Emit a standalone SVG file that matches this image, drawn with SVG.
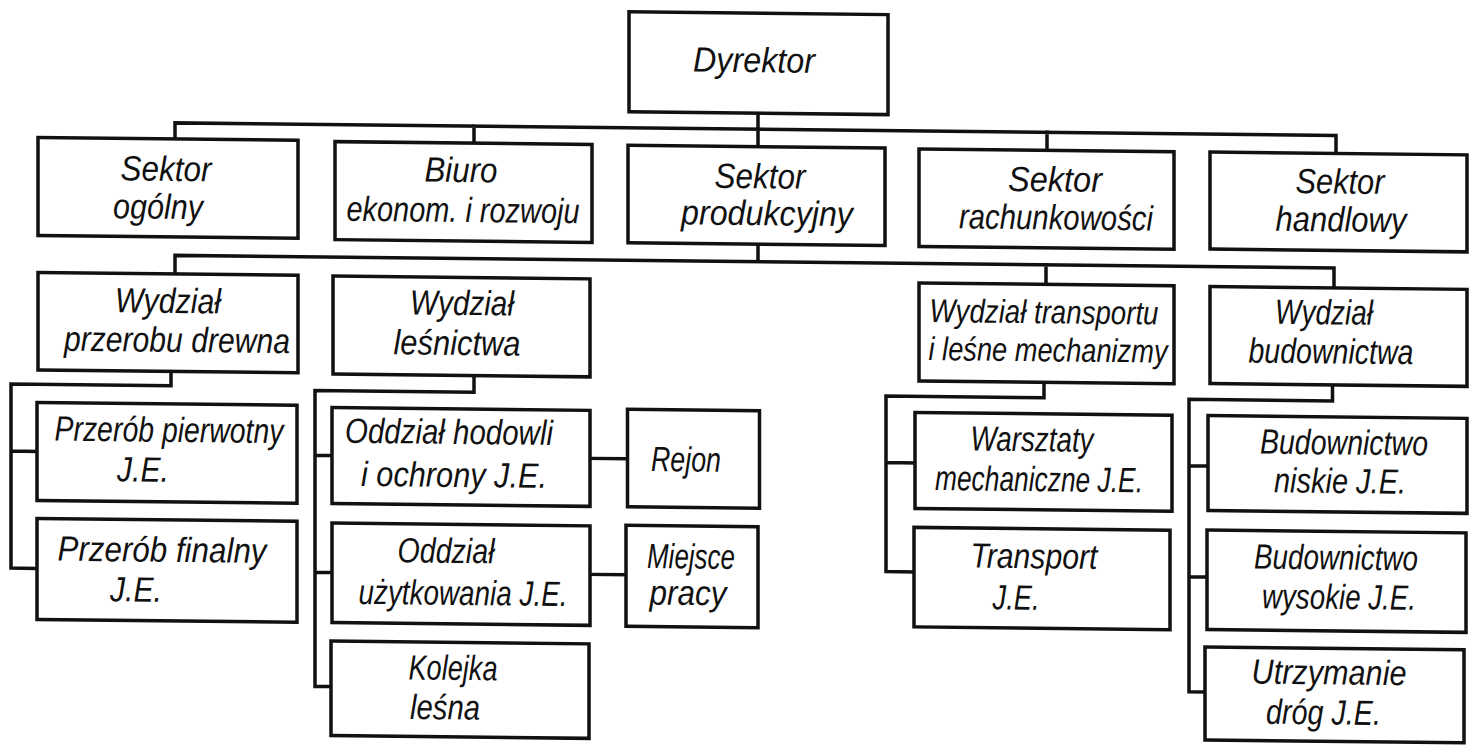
<svg xmlns="http://www.w3.org/2000/svg" width="1481" height="746" viewBox="0 0 1481 746">
<style>
.box{fill:#fff;stroke:#111;stroke-width:3.5}
.conn{fill:none;stroke:#111;stroke-width:3.5;stroke-linejoin:miter;stroke-linecap:square}
text{font-family:"Liberation Sans",Arial,sans-serif;font-style:italic;font-size:35px;fill:#111;text-anchor:middle}
.sm{font-size:33px}
</style>
<rect x="0" y="0" width="1481" height="746" fill="#fff"/>
<g transform="translate(0,-8) skewY(0.62)">
<g id="connectors">
<path class="conn" d="M758,113 V146 M175,146 V129 H1336 V146 M474,129 V146 M1047,129 V146"/>
<path class="conn" d="M758,244 V261.5 M175,280 V261.5 H1334 V280 M1046,261.5 V280"/>
<path class="conn" d="M171,377 V392 H11 V576 H36 M11,459 H36"/>
<path class="conn" d="M474,378.5 V395 H315 V691 H332 M315,460 H332 M315,577 H332"/>
<path class="conn" d="M590,460 H627.5 M590,576 H626"/>
<path class="conn" d="M1044,378.5 V394.5 H886 V570 H915 M886,461 H915"/>
<path class="conn" d="M1332.5,378.5 V394.5 H1189 V687 H1207 M1189,461 H1208 M1189,572 H1207"/>
</g>
<g id="dyrektor"><rect class="box" x="629" y="13" width="259" height="100"/><text x="754" y="72" textLength="122" lengthAdjust="spacingAndGlyphs">Dyrektor</text></g>
<g id="sektor-ogolny"><rect class="box" x="38" y="145" width="260" height="98"/><text x="166" y="187" textLength="91" lengthAdjust="spacingAndGlyphs">Sektor</text><text x="158" y="225" textLength="90" lengthAdjust="spacingAndGlyphs">ogólny</text></g>
<g id="biuro"><rect class="box" x="335" y="146" width="257" height="98"/><text x="461" y="185" textLength="73" lengthAdjust="spacingAndGlyphs">Biuro</text><text x="463" y="225" textLength="233" lengthAdjust="spacingAndGlyphs">ekonom. i rozwoju</text></g>
<g id="sektor-produkcyjny"><rect class="box" x="628" y="146.5" width="257" height="97.5"/><text x="760" y="188" textLength="91" lengthAdjust="spacingAndGlyphs">Sektor</text><text x="767" y="225" textLength="172" lengthAdjust="spacingAndGlyphs">produkcyjny</text></g>
<g id="sektor-rachunkowosci"><rect class="box" x="919" y="147" width="255" height="97.5"/><text x="1055" y="188" textLength="94" lengthAdjust="spacingAndGlyphs">Sektor</text><text x="1056" y="226" textLength="194" lengthAdjust="spacingAndGlyphs">rachunkowości</text></g>
<g id="sektor-handlowy"><rect class="box" x="1210" y="147" width="257" height="97"/><text x="1340" y="187" textLength="89" lengthAdjust="spacingAndGlyphs">Sektor</text><text x="1341" y="225" textLength="131" lengthAdjust="spacingAndGlyphs">handlowy</text></g>
<g id="wydzial-przerobu"><rect class="box" x="38" y="280" width="260" height="97.5"/><text x="168" y="319" textLength="106" lengthAdjust="spacingAndGlyphs">Wydział</text><text x="177" y="358" textLength="226" lengthAdjust="spacingAndGlyphs">przerobu drewna</text></g>
<g id="wydzial-lesnictwa"><rect class="box" x="333" y="280.5" width="257" height="98"/><text x="462" y="318" textLength="104" lengthAdjust="spacingAndGlyphs">Wydział</text><text x="457" y="358" textLength="127" lengthAdjust="spacingAndGlyphs">leśnictwa</text></g>
<g id="wydzial-transportu"><rect class="box" x="919" y="281" width="255" height="98"/><text class="sm" x="1044" y="320" textLength="229" lengthAdjust="spacingAndGlyphs">Wydział transportu</text><text class="sm" x="1048" y="358" textLength="239" lengthAdjust="spacingAndGlyphs">i leśne mechanizmy</text></g>
<g id="wydzial-budownictwa"><rect class="box" x="1210" y="281.5" width="257" height="97"/><text x="1324" y="318" textLength="98" lengthAdjust="spacingAndGlyphs">Wydział</text><text x="1331" y="357" textLength="165" lengthAdjust="spacingAndGlyphs">budownictwa</text></g>
<g id="przerob-pierwotny"><rect class="box" x="37" y="410" width="260" height="98"/><text x="169" y="448" textLength="229" lengthAdjust="spacingAndGlyphs">Przerób pierwotny</text><text x="143" y="488" textLength="52" lengthAdjust="spacingAndGlyphs">J.E.</text></g>
<g id="przerob-finalny"><rect class="box" x="37" y="526" width="260" height="101"/><text x="162" y="568" textLength="209" lengthAdjust="spacingAndGlyphs">Przerób finalny</text><text x="136" y="608" textLength="52" lengthAdjust="spacingAndGlyphs">J.E.</text></g>
<g id="oddzial-hodowli"><rect class="box" x="332" y="412" width="258" height="96"/><text x="449" y="447" textLength="208" lengthAdjust="spacingAndGlyphs">Oddział hodowli</text><text x="454" y="490" textLength="186" lengthAdjust="spacingAndGlyphs">i ochrony J.E.</text></g>
<g id="oddzial-uzytkowania"><rect class="box" x="332" y="527.5" width="258" height="99.5"/><text x="446" y="566" textLength="97" lengthAdjust="spacingAndGlyphs">Oddział</text><text x="463" y="608" textLength="209" lengthAdjust="spacingAndGlyphs">użytkowania J.E.</text></g>
<g id="kolejka-lesna"><rect class="box" x="331" y="645.5" width="258" height="94.5"/><text x="453" y="683" textLength="89" lengthAdjust="spacingAndGlyphs">Kolejka</text><text x="445" y="722.5" textLength="70" lengthAdjust="spacingAndGlyphs">leśna</text></g>
<g id="rejon"><rect class="box" x="627.5" y="410.5" width="132" height="97.5"/><text x="686" y="472" textLength="70" lengthAdjust="spacingAndGlyphs">Rejon</text></g>
<g id="miejsce-pracy"><rect class="box" x="626" y="526.5" width="132" height="101"/><text x="691" y="569" textLength="88" lengthAdjust="spacingAndGlyphs">Miejsce</text><text x="688" y="605.5" textLength="77" lengthAdjust="spacingAndGlyphs">pracy</text></g>
<g id="warsztaty"><rect class="box" x="915" y="410.5" width="257" height="96"/><text x="1032" y="448" textLength="123" lengthAdjust="spacingAndGlyphs">Warsztaty</text><text x="1039" y="488" textLength="208" lengthAdjust="spacingAndGlyphs">mechaniczne J.E.</text></g>
<g id="transport"><rect class="box" x="914" y="525.5" width="256" height="99.5"/><text x="1034" y="565" textLength="127" lengthAdjust="spacingAndGlyphs">Transport</text><text x="1016" y="606.5" textLength="47" lengthAdjust="spacingAndGlyphs">J.E.</text></g>
<g id="budownictwo-niskie"><rect class="box" x="1208" y="410.5" width="259" height="95"/><text x="1344" y="448" textLength="168" lengthAdjust="spacingAndGlyphs">Budownictwo</text><text x="1340" y="486.5" textLength="132" lengthAdjust="spacingAndGlyphs">niskie J.E.</text></g>
<g id="budownictwo-wysokie"><rect class="box" x="1207" y="525" width="259" height="99.5"/><text x="1336" y="563" textLength="164" lengthAdjust="spacingAndGlyphs">Budownictwo</text><text x="1339" y="602.5" textLength="154" lengthAdjust="spacingAndGlyphs">wysokie J.E.</text></g>
<g id="utrzymanie-drog"><rect class="box" x="1205" y="642" width="259" height="93"/><text x="1329" y="678" textLength="155" lengthAdjust="spacingAndGlyphs">Utrzymanie</text><text x="1323.5" y="718" textLength="115" lengthAdjust="spacingAndGlyphs">dróg J.E.</text></g>
</g>
</svg>
